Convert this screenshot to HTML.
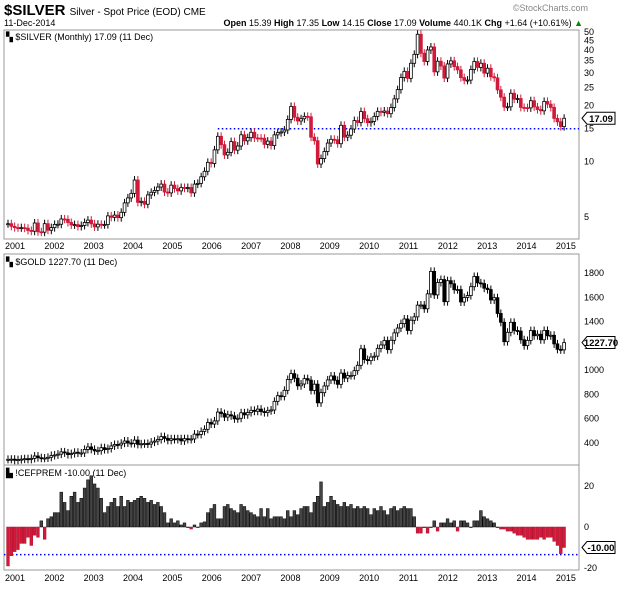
<!DOCTYPE html>
<html><head><meta charset="utf-8"><style>
body{margin:0;background:#fff;width:619px;height:585px;overflow:hidden;font-family:"Liberation Sans",sans-serif}
svg text{font-family:"Liberation Sans",sans-serif}
</style></head><body>
<svg id="c" width="619" height="585" viewBox="0 0 619 585">
<text x="4" y="15" font-size="15" font-weight="bold">$SILVER <tspan font-size="10" font-weight="normal">Silver - Spot Price (EOD) CME</tspan></text>
<text x="4" y="26" font-size="9">11-Dec-2014</text>
<text x="588" y="11" font-size="9" fill="#888" text-anchor="end">©StockCharts.com</text>
<text x="583" y="26" font-size="9" text-anchor="end"><tspan font-weight="bold">Open</tspan> 15.39 <tspan font-weight="bold">High</tspan> 17.35 <tspan font-weight="bold">Low</tspan> 14.15 <tspan font-weight="bold">Close</tspan> 17.09 <tspan font-weight="bold">Volume</tspan> 440.1K <tspan font-weight="bold">Chg</tspan> +1.64 (+10.61%) <tspan fill="#080">▲</tspan></text>
<g id="g"></g>
</svg>
<script>
const years=["2001","2002","2003","2004","2005","2006","2007","2008","2009","2010","2011","2012","2013","2014","2015"];
const silverClose=[4.60,4.45,4.38,4.37,4.38,4.35,4.23,4.19,4.64,4.16,4.14,4.60,
4.24,4.38,4.56,4.57,4.88,4.86,4.67,4.53,4.55,4.44,4.50,4.67,
4.81,4.59,4.42,4.57,4.54,4.55,5.07,4.98,5.12,4.96,5.30,5.96,
6.34,6.71,7.92,6.00,6.08,5.86,6.58,6.80,6.96,7.26,7.53,6.82,
6.75,7.43,7.12,6.92,7.22,7.15,7.22,6.75,7.53,7.60,8.25,8.83,
9.87,9.73,11.53,13.65,12.30,10.82,11.18,12.78,11.49,12.10,13.91,12.90,
13.42,14.35,13.37,13.35,13.33,12.35,12.86,12.16,13.90,14.28,14.40,14.76,
16.85,19.80,17.31,16.52,16.98,17.50,17.40,13.50,12.92,9.67,10.35,11.30,
12.55,13.15,13.08,12.45,15.65,13.51,13.84,14.95,16.60,16.22,18.58,16.99,
16.17,16.44,17.49,18.62,18.40,18.70,18.09,19.53,21.75,24.40,28.36,30.63,
28.09,33.88,37.87,48.60,38.39,34.64,39.98,41.50,30.45,34.75,32.75,28.18,
33.59,34.92,32.50,31.22,28.34,27.39,27.48,31.35,34.65,32.17,33.88,29.95,
31.85,28.64,28.26,24.32,22.22,19.66,19.71,23.32,21.69,21.85,19.56,19.50,
19.44,21.26,19.70,19.04,18.75,21.08,20.37,19.56,17.06,16.35,15.40,17.09];
const goldClose=[265.5,266.7,257.7,263.2,267.0,270.6,265.3,273.0,293.1,278.8,274.4,276.5,
282.3,296.9,301.4,308.2,326.6,318.5,304.7,312.8,323.7,316.9,317.7,347.2,
367.5,347.5,334.9,336.8,361.4,346.0,354.8,375.6,388.0,383.8,398.4,416.3,
399.8,395.9,423.7,388.5,393.3,395.8,391.4,407.3,415.7,428.4,452.3,438.0,
422.2,434.5,428.9,435.0,417.2,435.5,429.0,433.3,473.3,470.8,495.7,513.0,
568.8,556.0,582.0,654.5,643.0,613.5,632.5,623.5,599.3,603.8,648.8,632.0,
650.5,669.0,661.8,679.0,659.1,650.5,665.5,672.0,743.0,789.5,783.5,833.8,
923.3,971.5,933.5,871.0,885.8,930.3,918.0,833.0,884.5,730.8,814.5,869.8,
919.5,952.0,916.5,883.3,975.5,934.5,955.5,955.5,995.8,1040.0,1175.8,1087.5,
1078.5,1108.3,1115.5,1179.3,1207.5,1244.0,1169.0,1246.0,1307.0,1346.8,1383.5,1421.4,
1327.0,1411.0,1439.0,1535.5,1536.5,1505.5,1628.5,1813.5,1620.0,1722.0,1746.4,1564.2,
1737.0,1711.3,1662.5,1663.8,1561.8,1598.5,1614.5,1687.5,1771.5,1719.0,1713.5,1675.4,
1664.0,1578.3,1597.0,1467.0,1394.5,1234.6,1311.8,1394.0,1327.0,1322.0,1250.5,1201.8,
1244.8,1326.0,1283.8,1295.8,1250.5,1327.3,1283.0,1287.4,1216.5,1171.6,1167.4,1227.7];
const premium=[-19,-14,-12,-11,-8,-8,-5,-9,-4,-5,3,-6,
4,5,7,7,17,12,8,15,17,12,14,19,
23,25,21,19,14,7,10,12,14,10,15,10,
13,12,13,14,15,14,12,13,11,12,10,7,
2,4,2,3,1,2,0,-1,1,0,2,2.5,
7,9,11,4,4,10,11,9,8,7,11,10,
8,7,6,5,9,5,9,4,5,5,5,4,
8,5,8,6,9,10,10,7,12,15,22,10,
12,15,13,11,10,12,10,11,9,10,9,10,
9,6,9,8,10,8,6,9,10,8,9,10,
9,9,5,-3,-3,0,-3,0,3,-2,2,2,
4,2,3,-2,3,3,2,0,3,3,8,5,
4,3,2,0,-1,-1,-2,-2,-3,-4,-4,-5,
-6,-6,-6,-6,-5,-6,-5,-5,-7,-9,-13,-10];
const silverTicks=[5,10,15,20,25,30,35,40,45,50];
const goldTicks=[400,600,800,1000,1200,1400,1600,1800];
const premTicks=[20,0,-20];

const NS="http://www.w3.org/2000/svg",G=document.getElementById('g');
function el(t,a,p){const e=document.createElementNS(NS,t);for(const k in a)e.setAttribute(k,a[k]);(p||G).appendChild(e);return e;}
const L=4,R=579;
const xm=i=>8+i*3.33;
const xy=i=>15+i*39.35;
const ySil=v=>217-Math.log10(v/5)*185;
const yGold=v=>443-(v-400)*0.1214;
const yPrem=v=>527-v*2.05;

const f1=el('rect',{x:L,y:30,width:R-L,height:209,fill:'none',stroke:'#999'});


const f2=el('rect',{x:L,y:254,width:R-L,height:211,fill:'none',stroke:'#999'});


const f3=el('rect',{x:L,y:465,width:R-L,height:105,fill:'none',stroke:'#999'});



function txt(x,y,s,attrs,name){const t=el('text',Object.assign({x:x,y:y,'font-size':9},attrs||{}));t.textContent=s;return t;}
txt(6,40,'▚ $SILVER (Monthly) 17.09 (11 Dec)',{'font-size':9},'silver-panel-title');
txt(6,265,'▚ $GOLD 1227.70 (11 Dec)',{'font-size':9},'gold-panel-title');
txt(6,476,'▙ !CEFPREM -10.00 (11 Dec)',{'font-size':9},'premium-panel-title');

years.forEach((yr,k)=>{
 txt(xy(k),249,yr,{'text-anchor':'middle'},'x-tick-silver');
 txt(xy(k),581,yr,{'text-anchor':'middle'},'x-tick-premium');
});
silverTicks.forEach(v=>txt(584,ySil(v)+3,String(v),{},'y-tick-silver'));
goldTicks.forEach(v=>txt(584,yGold(v)+3,String(v),{},'y-tick-gold'));
premTicks.forEach(v=>txt(584,yPrem(v)+3,String(v),{},'y-tick-premium'));

const d1=el('line',{x1:xm(63),x2:R,y1:ySil(15),y2:ySil(15),stroke:'#00f','stroke-width':1.5,'stroke-dasharray':'1.5,2.5'});


const d3=el('line',{x1:L,x2:R,y1:yPrem(-13.5),y2:yPrem(-13.5),stroke:'#00f','stroke-width':1.5,'stroke-dasharray':'1.5,2.5'});



function candles(arr,yf,name,redMode){
 arr.forEach((c,i)=>{
  const o=i?arr[i-1]:c, x=xm(i);
  const y1=yf(Math.max(o,c)),y2=yf(Math.min(o,c));
  const down=c<o;
  const col=redMode&&down?'#d11a3a':'#000';
  const w=el('line',{x1:x,x2:x,y1:y1-4,y2:y2+4,stroke:col,'stroke-width':1});
  
  
  const b=el('rect',{x:x-1.4,y:y1,width:2.8,height:Math.max(1,y2-y1),fill:down?col:'#fff',stroke:col,'stroke-width':0.8});
  
  
 });
}
candles(silverClose,ySil,'silver',true);
candles(goldClose,yGold,'gold',false);

premium.forEach((v,i)=>{
 const x=xm(i),y0=yPrem(0),y=yPrem(v);
 const b=el('rect',{x:x-1.4,y:Math.min(y,y0),width:2.8,height:Math.max(0.5,Math.abs(y-y0)),fill:v>=0?'#444':'#d11a3a',stroke:v>=0?'#000':'#b0102e','stroke-width':0.5});
 
 
});

function tag(y,s,name){
 const p=el('path',{d:`M582 ${y} L587 ${y-6} H615 V${y+6} H587 Z`,fill:'#fff',stroke:'#000','stroke-width':1});
 
 
 txt(601,y+3.5,s,{'text-anchor':'middle','font-weight':'bold','font-size':9.5},name);
}
tag(ySil(silverClose[silverClose.length-1]),'17.09','silver-last-price');
tag(yGold(goldClose[goldClose.length-1]),'1227.70','gold-last-price');
tag(yPrem(premium[premium.length-1]),'-10.00','premium-last-value');
</script>
</body></html>
